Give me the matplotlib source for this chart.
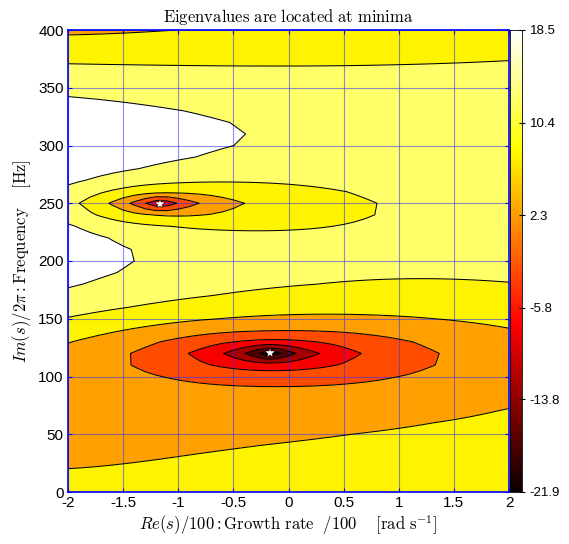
import numpy as np
import matplotlib
matplotlib.use("Agg")
import matplotlib.pyplot as plt
from matplotlib import cm, colors

plt.rcParams['font.family'] = ['Liberation Sans', 'DejaVu Sans']
plt.rcParams['mathtext.fontset'] = 'cm'

# eigenvalues (stars): Re(s)/100 and Im(s)/2pi [Hz]
eig_re = [-0.17, -1.17]
eig_hz = [120, 249]

# contour crossings and spot levels: Re(s)/100, Hz, level
cross_re = [-2, -1, 0, 1, 2,
            -1.56, 1.39, -0.1, -0.1, -0.96, 0.68, -0.61, 0.29, -0.39, 0.06,
            -2, 0, 2, -2, -1, -0.44, 2,
            -2, -1.35, -2,
            -1.885, 0.93, -1, -1, -1.62, -0.39, -1, -1, -1.44, -0.81, -1.3, -1.01,
            -2, -1, -0.55, -1, -2,
            -2, -1, 0, 1, 2, -2, -0.8,
            2, 1, 0.5, 1.5, 0, 2, -2, -2, -2, 2, 0, -2,
            -1, 1, -2, 1.5, 1.5, -0.5, 0.5, -0.5, 1, -2, -1.5]
cross_hz = [30, 29, 36, 51, 72,
            117, 117, 140, 88, 118, 118, 119, 119, 120, 120,
            130, 153, 145, 149, 166, 175, 185,
            177, 202, 234,
            250, 247, 264, 233, 250, 250, 259, 241, 251, 251, 251, 251,
            269, 293, 313, 333, 351,
            376, 373, 371, 373, 379, 394, 400,
            300, 250, 320, 200, 0, 0, 0, 205, 310, 400, 400, 400,
            0, 0, 80, 100, 350, 350, 200, 190, 170, 250, 400]
cross_lev = [5, 5, 5, 5, 5,
             0, 0, 0, 0, -5, -5, -10, -10, -15, -15,
             5, 5, 5, 10, 10, 10, 10,
             15, 15, 15,
             10, 10, 10, 10, 5, 5, 5, 5, 0, 0, -5, -5,
             15, 15, 15, 15, 15,
             10, 10, 10, 10, 10, 5, 5,
             13, 12, 13, 11, 7, 8, 6.5, 17.5, 18.5, 7, 6, 3.5,
             6.5, 7.5, 2.5, 2.5, 12, 13, 11.5, 11.5, 8.5, 13, 4]

# helper roots / poles outside the window (Re(s)/100, Hz); strengths fitted
root_re = [-3.0, -2.4]
root_hz = [40, 425]
pole_re = [-3.2, -3.2, 7.0, -7.0, 3.5]
pole_hz = [200, 310, 230, 230, 440]

levels = [-60, -20, -15, -10, -5, 0, 5, 10, 15, 60]
cbar_ticks = [-21.9, -13.8, -5.8, 2.3, 10.4, 18.5]
xticks = [-2, -1.5, -1, -0.5, 0, 0.5, 1, 1.5, 2]
yticks = [0, 50, 100, 150, 200, 250, 300, 350, 400]


def ldist(u, hz, a, b, eps=0.0):
    v = 2 * np.pi * hz / 100
    vb = 2 * np.pi * b / 100
    return 10 * np.log10((u - a) ** 2 + (v - vb) ** 2 + eps ** 2)


def pair(u, hz, a, b):
    return ldist(u, hz, a, b) + ldist(u, hz, a, -b)


def fixed_part(u, hz):
    out = ldist(u, hz, eig_re[0], -eig_hz[0])
    for a, b in zip(eig_re, eig_hz):
        out = out + ldist(u, hz, a, b, 0.1)
    return out


def basis(u, hz):
    cols = [np.ones_like(u), u, 2 * np.pi * hz / 100]
    cols += [pair(u, hz, a, b) for a, b in zip(root_re, root_hz)]
    cols += [-pair(u, hz, a, b) for a, b in zip(pole_re, pole_hz)]
    return np.stack(cols, axis=-1)


cu = np.array(cross_re, float)
ch = np.array(cross_hz, float)
coef = np.linalg.lstsq(basis(cu, ch), np.array(cross_lev) - fixed_part(cu, ch), rcond=None)[0]

re = np.linspace(-2, 2, 41)
hz = np.linspace(0, 400, 41)
RE, HZ = np.meshgrid(re, hz)
F = fixed_part(RE, HZ) + basis(RE, HZ) @ coef

cmin, cmax = cbar_ticks[0], cbar_ticks[-1]
norm = colors.Normalize(cmin, cmax)
mids = [(max(lo, cmin) + min(hi, cmax)) / 2 for lo, hi in zip(levels[:-1], levels[1:])]
fills = [cm.hot(norm(m)) for m in mids]
fills[-1] = (1, 1, 1, 1)

fig = plt.figure(figsize=(5.69, 5.44), dpi=100)
ax = fig.add_axes([68 / 569, 52 / 544, 441 / 569, 462 / 544])
cax = fig.add_axes([510 / 569, 52 / 544, 12 / 569, 462 / 544])

ax.contourf(RE, HZ, F, levels=levels, colors=fills)
ax.contour(RE, HZ, F, levels=levels[1:-1], colors='k', linewidths=0.75, linestyles='solid')
ax.plot(eig_re, eig_hz, ls='none', marker='*', ms=7, mfc='white', mec='k', mew=0.3)

ax.set_xlim(-2, 2)
ax.set_ylim(0, 400)
ax.set_xticks(xticks)
ax.set_xticklabels([f'{t:g}' for t in xticks])
ax.set_yticks(yticks)
ax.grid(True, color='#3030ff', alpha=0.55, lw=0.8)
ax.tick_params(direction='in', length=3, color='b', labelsize=11, pad=3, top=True, right=True)
for sp in ax.spines.values():
    sp.set_color('b')
    sp.set_linewidth(1.2)

ax.set_title(r'$\mathrm{Eigenvalues\ are\ located\ at\ minima}$', fontsize=12, pad=6)
ax.set_xlabel(r'$Re(s)/100:\mathrm{Growth\ rate}\ \ /100\quad\ [\mathrm{rad\ s^{-1}}]$', fontsize=12, labelpad=2)
ax.set_ylabel(r'$Im(s)/2\pi:\mathrm{Frequency}\quad\ [\mathrm{Hz}]$', fontsize=12, labelpad=4)

sm = cm.ScalarMappable(norm=norm, cmap='hot')
cb = fig.colorbar(sm, cax=cax, ticks=cbar_ticks)
cb.ax.set_yticklabels([f'{t:g}' for t in cbar_ticks])
cb.ax.tick_params(labelsize=9.5, length=4, direction='inout')
cb.outline.set_linewidth(0.6)

fig.savefig('out.png', dpi=100)
